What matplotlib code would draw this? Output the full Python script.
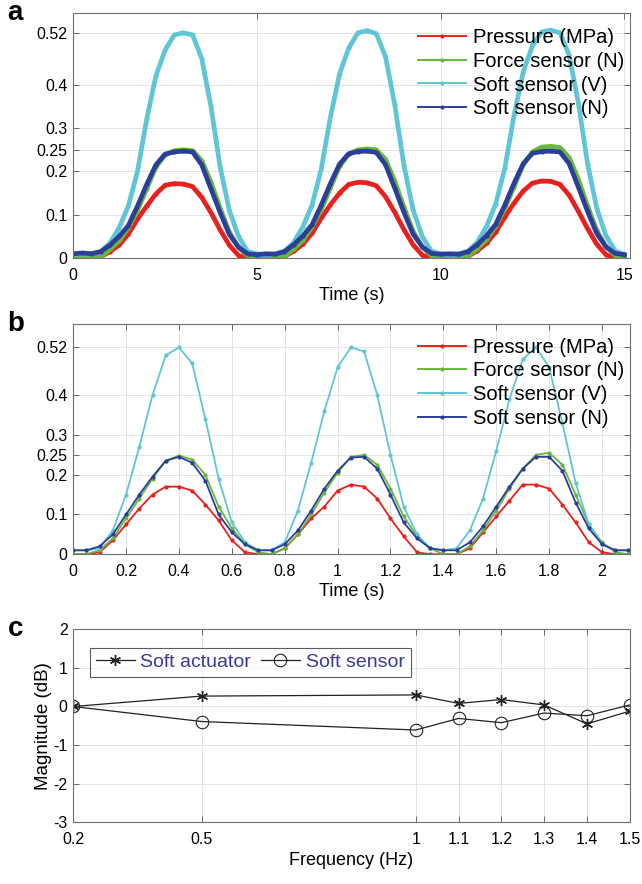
import numpy as np
import matplotlib
matplotlib.use("Agg")
import matplotlib.pyplot as plt

plt.rcParams['font.family'] = ['Liberation Sans', 'DejaVu Sans']
plt.rcParams['axes.unicode_minus'] = False

# panel a: slow cycles, sampled every 0.25 s
time_a = np.linspace(0, 15, 61)
pressure_a = [0.0, 0.0, 0.0,
              0.003, 0.015, 0.03, 0.055, 0.09, 0.12, 0.148, 0.168, 0.172, 0.171, 0.165, 0.14, 0.105, 0.065, 0.03, 0.006, 0.0,
              0.0, 0.0, 0.0,
              0.004, 0.016, 0.032, 0.057, 0.092, 0.123, 0.15, 0.17, 0.175, 0.174, 0.167, 0.142, 0.106, 0.066, 0.031, 0.007, 0.0,
              0.0, 0.0, 0.0,
              0.004, 0.017, 0.034, 0.06, 0.095, 0.127, 0.155, 0.173, 0.178, 0.177, 0.17, 0.145, 0.108, 0.068, 0.032, 0.008, 0.0, 0.0]
force_a = [0.0, 0.0, 0.0,
           0.003, 0.02, 0.04, 0.07, 0.11, 0.16, 0.21, 0.238, 0.248, 0.25, 0.248, 0.225, 0.175, 0.115, 0.06, 0.025, 0.005,
           0.0, 0.0, 0.0,
           0.004, 0.021, 0.041, 0.072, 0.112, 0.162, 0.212, 0.24, 0.25, 0.252, 0.25, 0.228, 0.178, 0.118, 0.062, 0.026, 0.006,
           0.0, 0.0, 0.0,
           0.004, 0.022, 0.043, 0.074, 0.115, 0.165, 0.216, 0.245, 0.256, 0.258, 0.255, 0.232, 0.182, 0.12, 0.064, 0.027, 0.006, 0.0]
soft_v_a = [0.008, 0.01, 0.01,
            0.015, 0.035, 0.07, 0.12, 0.2, 0.32, 0.42, 0.48, 0.515, 0.52, 0.515, 0.46, 0.35, 0.21, 0.11, 0.05, 0.015,
            0.01, 0.008, 0.01,
            0.016, 0.036, 0.072, 0.122, 0.205, 0.325, 0.425, 0.485, 0.52, 0.525, 0.518, 0.465, 0.355, 0.215, 0.112, 0.05, 0.016,
            0.01, 0.008, 0.01,
            0.016, 0.037, 0.073, 0.125, 0.208, 0.33, 0.43, 0.49, 0.522, 0.526, 0.52, 0.468, 0.358, 0.218, 0.115, 0.052, 0.017, 0.008]
soft_n_a = [0.01, 0.012, 0.01,
            0.015, 0.03, 0.05, 0.075, 0.12, 0.17, 0.215, 0.24, 0.245, 0.247, 0.245, 0.215, 0.16, 0.105, 0.055, 0.025, 0.01,
            0.008, 0.01, 0.009,
            0.015, 0.031, 0.051, 0.077, 0.122, 0.172, 0.217, 0.241, 0.246, 0.247, 0.244, 0.216, 0.162, 0.106, 0.056, 0.026, 0.011,
            0.009, 0.01, 0.009,
            0.015, 0.031, 0.052, 0.078, 0.123, 0.173, 0.218, 0.242, 0.246, 0.247, 0.245, 0.218, 0.164, 0.108, 0.057, 0.026, 0.011, 0.008]

# panel b: fast cycles, sampled every 0.05 s
time_b = np.linspace(0, 2.1, 43)
pressure_b = [0.0, 0.0, 0.005, 0.035, 0.075, 0.115, 0.15, 0.17, 0.17, 0.16, 0.125, 0.085, 0.035, 0.005, 0.0,
              0.0, 0.015, 0.05, 0.09, 0.12, 0.16, 0.175, 0.17, 0.14, 0.09, 0.045, 0.005, 0.0, 0.0,
              0.0, 0.015, 0.055, 0.095, 0.135, 0.175, 0.175, 0.165, 0.125, 0.08, 0.03, 0.005, 0.0, 0.0]
force_b = [0.0, 0.0, 0.01, 0.04, 0.09, 0.14, 0.19, 0.235, 0.248, 0.238, 0.2, 0.12, 0.065, 0.025, 0.005,
           0.0, 0.015, 0.05, 0.1, 0.155, 0.205, 0.245, 0.25, 0.225, 0.165, 0.095, 0.045, 0.015, 0.0,
           0.0, 0.02, 0.06, 0.11, 0.165, 0.215, 0.25, 0.255, 0.225, 0.15, 0.075, 0.03, 0.005, 0.0]
soft_v_b = [0.01, 0.01, 0.015, 0.06, 0.15, 0.27, 0.4, 0.5, 0.52, 0.48, 0.34, 0.19, 0.08, 0.03, 0.01,
            0.01, 0.03, 0.11, 0.23, 0.36, 0.47, 0.52, 0.51, 0.4, 0.25, 0.12, 0.05, 0.015, 0.01,
            0.015, 0.06, 0.14, 0.26, 0.39, 0.49, 0.52, 0.47, 0.33, 0.18, 0.075, 0.025, 0.01, 0.01]
soft_n_b = [0.01, 0.01, 0.02, 0.05, 0.1, 0.15, 0.195, 0.235, 0.245, 0.23, 0.185, 0.1, 0.055, 0.025, 0.01,
            0.01, 0.025, 0.06, 0.11, 0.165, 0.21, 0.243, 0.245, 0.215, 0.15, 0.08, 0.04, 0.015, 0.01,
            0.01, 0.03, 0.07, 0.12, 0.17, 0.215, 0.245, 0.245, 0.21, 0.13, 0.065, 0.025, 0.01, 0.01]

# panel c: frequency response
freq = [0.2, 0.5, 1.0, 1.1, 1.2, 1.3, 1.4, 1.5]
actuator_db = [0.0, 0.27, 0.3, 0.08, 0.18, 0.04, -0.45, -0.12]
sensor_db = [0.0, -0.39, -0.61, -0.31, -0.42, -0.17, -0.24, 0.04]

series_names = ['Pressure (MPa)', 'Force sensor (N)', 'Soft sensor (V)', 'Soft sensor (N)']
series_colors = ['#e8211f', '#68b83c', '#60c5d6', '#2c3f98']
y_ticks = [0, 0.1, 0.2, 0.25, 0.3, 0.4, 0.52]
y_ticklabels = ['0', '0.1', '0.2', '0.25', '0.3', '0.4', '0.52']
c_ticklabels = ['0.2', '0.5', '1', '1.1', '1.2', '1.3', '1.4', '1.5']


def style_axes(ax):
    ax.grid(True, color='#e3e3e3', linewidth=0.7)
    ax.set_axisbelow(True)
    ax.tick_params(direction='in', top=True, right=True, labelsize=11.5,
                   length=4, width=0.6, color='#555555')
    ax.tick_params(axis='x', pad=7)
    ax.tick_params(axis='y', pad=4)
    for s in ax.spines.values():
        s.set_color('#707070')
        s.set_linewidth(0.8)


fig = plt.figure(figsize=(6.42, 8.84), dpi=100)

left, width = 0.114, 0.867
ax_a = fig.add_axes([left, 0.708, width, 0.277])
ax_b = fig.add_axes([left, 0.373, width, 0.261])
ax_c = fig.add_axes([left, 0.070, width, 0.218])

data_a = [pressure_a, force_a, soft_v_a, soft_n_a]
for vals, name, col in zip(data_a, series_names, series_colors):
    ax_a.plot(time_a, vals, '.-', color=col, linewidth=3.4, markersize=4, label=name)
ax_a.set_xlim(0, 15.15)
ax_a.set_ylim(0, 0.565)
ax_a.set_xticks([0, 5, 10, 15])
ax_a.set_xlabel('Time (s)', fontsize=13, labelpad=3)

data_b = [pressure_b, force_b, soft_v_b, soft_n_b]
for vals, name, col in zip(data_b, series_names, series_colors):
    ax_b.plot(time_b, vals, '.-', color=col, linewidth=1.3, markersize=4, label=name)
ax_b.set_xlim(0, 2.105)
ax_b.set_ylim(0, 0.58)
ax_b.set_xticks([0, 0.2, 0.4, 0.6, 0.8, 1, 1.2, 1.4, 1.6, 1.8, 2])
ax_b.set_xticklabels(['0', '0.2', '0.4', '0.6', '0.8', '1', '1.2', '1.4', '1.6', '1.8', '2'])
ax_b.set_xlabel('Time (s)', fontsize=13, labelpad=3)

for ax in (ax_a, ax_b):
    ax.set_yticks(y_ticks)
    ax.set_yticklabels(y_ticklabels)
    style_axes(ax)
    leg = ax.legend(loc='upper right', frameon=False, fontsize=14.5,
                    handlelength=2.4, handletextpad=0.3, labelspacing=0.24,
                    bbox_to_anchor=(1.0, 0.965), borderaxespad=0.1, borderpad=0.2)
    for ln in leg.get_lines():
        ln.set_linewidth(1.4)

ax_c.plot(freq, actuator_db, '-', color='#222222', marker=(6, 2, 0), markersize=8,
          markeredgewidth=1.0, linewidth=0.9, label='Soft actuator')
ax_c.plot(freq, sensor_db, '-', color='#222222', marker='o', markersize=9,
          markerfacecolor='none', markeredgewidth=0.8, linewidth=0.9, label='Soft sensor')
ax_c.set_xlim(0.2, 1.5)
ax_c.set_ylim(-3, 2)
ax_c.set_xticks(freq)
ax_c.set_xticklabels(c_ticklabels)
ax_c.set_yticks([-3, -2, -1, 0, 1, 2])
ax_c.set_xlabel('Frequency (Hz)', fontsize=13, labelpad=4)
ax_c.set_ylabel('Magnitude (dB)', fontsize=13.5, labelpad=1)
style_axes(ax_c)
leg_c = ax_c.legend(loc='upper left', ncol=2, fontsize=14, frameon=True,
                    fancybox=False, edgecolor='#333333', handlelength=2.0,
                    handletextpad=0.3, columnspacing=0.5, borderpad=0.3,
                    bbox_to_anchor=(0.03, 0.905), borderaxespad=0.0)
leg_c.get_frame().set_linewidth(0.8)
for txt in leg_c.get_texts():
    txt.set_color('#3a3a9c')

for ax, letter in zip((ax_a, ax_b, ax_c), ('a', 'b', 'c')):
    ax.text(-0.118, 1.0, letter, transform=ax.transAxes, fontsize=20,
            fontweight='bold', ha='left', va='center')

fig.savefig('out.png', dpi=100)
